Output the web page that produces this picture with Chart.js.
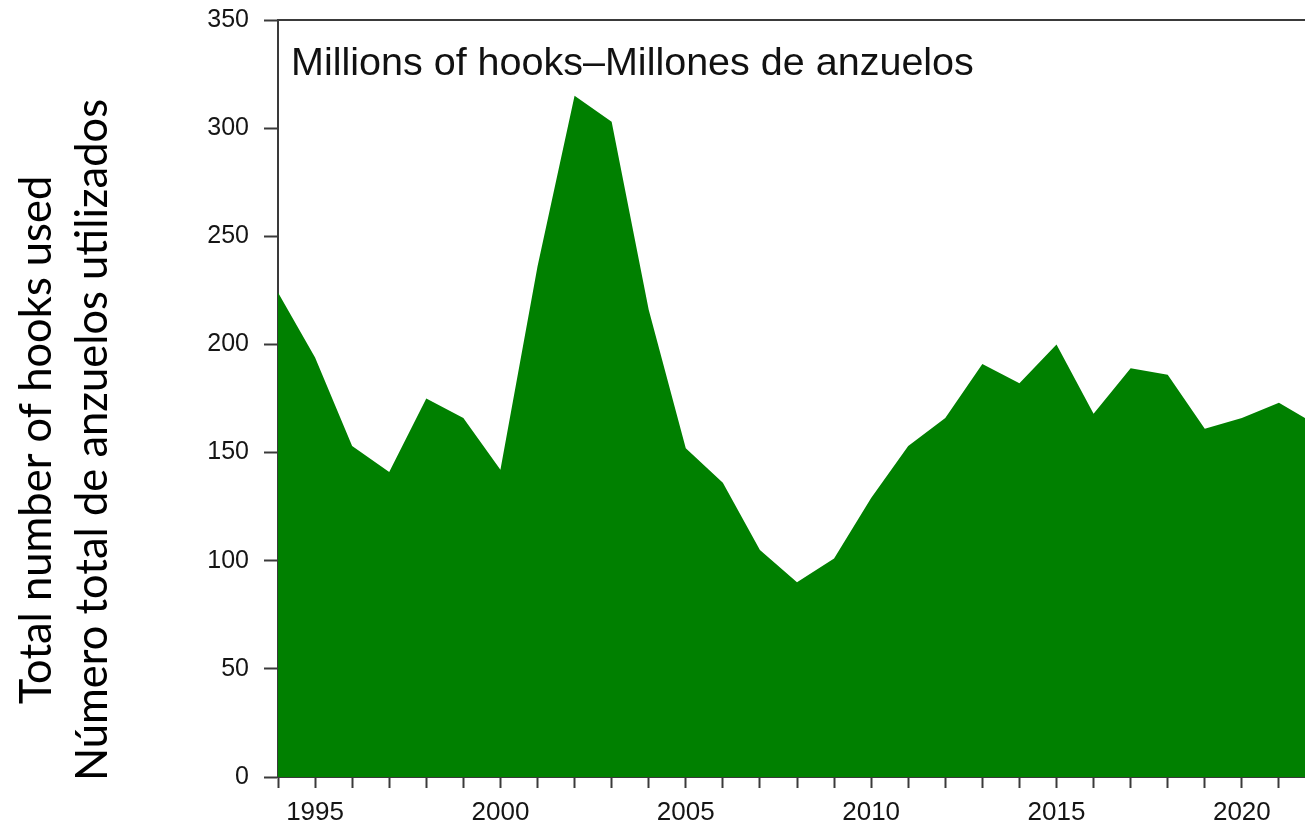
<!DOCTYPE html>
<html>
<head>
<meta charset="utf-8">
<script src="https://cdn.jsdelivr.net/npm/chart.js@4"></script>
<style>
    html, body { margin: 0; padding: 0; background: #fff; overflow: hidden; }
    #wrap { position: relative; width: 1330px; height: 825px; }
</style>
</head>
<body>
<div id="wrap"><canvas id="hooksChart"></canvas></div>
<script>
// Years on the x axis and total hooks (millions) per year
const years = [1994, 1995, 1996, 1997, 1998, 1999, 2000, 2001, 2002, 2003, 2004,
    2005, 2006, 2007, 2008, 2009, 2010, 2011, 2012, 2013, 2014, 2015,
    2016, 2017, 2018, 2019, 2020, 2021, 2022];
const hooks = [224, 194, 153, 141, 175, 166, 142, 236, 315, 303, 216,
    152, 136, 105, 90, 101, 129, 153, 166, 191, 182, 200,
    168, 189, 186, 161, 166, 173, 163];

const yTicks = [0, 50, 100, 150, 200, 250, 300, 350];
const labeledYears = [1995, 2000, 2005, 2010, 2015, 2020];

const panelTitle = 'Millions of hooks\u2013Millones de anzuelos';
const axisTitleLines = ['Total number of hooks used', 'Número total de anzuelos utilizados'];

const FILL_GREEN = '#008000';
const FRAME = '#3a3a3a';

// Frame top line, panel label inside the plot, and two-line y title
const decorations = {
    id: 'decorations',
    afterDraw(chart) {
        const { ctx, chartArea } = chart;
        ctx.save();
        ctx.strokeStyle = FRAME;
        ctx.lineWidth = 2;
        ctx.beginPath();
        ctx.moveTo(chartArea.left - 1, chartArea.top);
        ctx.lineTo(chartArea.right, chartArea.top);
        ctx.stroke();

        ctx.fillStyle = '#111';
        ctx.font = '39.5px "Liberation Sans", Arial, sans-serif';
        ctx.textBaseline = 'alphabetic';
        ctx.textAlign = 'left';
        ctx.fillText(panelTitle, chartArea.left + 13, chartArea.top + 55);

        ctx.translate(0, 440);
        ctx.rotate(-Math.PI / 2);
        ctx.textAlign = 'center';
        ctx.textBaseline = 'middle';
        ctx.fillStyle = '#000';
        ctx.font = '43.5px Lato, "Open Sans", sans-serif';
        ctx.fillText(axisTitleLines[0], 0, 37);
        ctx.fillText(axisTitleLines[1], 0, 93);
        ctx.restore();
    }
};

const ctx = document.getElementById('hooksChart');
new Chart(ctx, {
    type: 'line',
    data: {
        datasets: [{
            data: years.map((yr, i) => ({ x: yr, y: hooks[i] })),
            backgroundColor: FILL_GREEN,
            borderColor: FILL_GREEN,
            borderWidth: 0,
            pointRadius: 0,
            tension: 0,
            fill: 'origin'
        }]
    },
    options: {
        responsive: true,
        maintainAspectRatio: false,
        animation: false,
        layout: { padding: { left: 0, right: 14, top: 20, bottom: 0 } },
        plugins: {
            legend: { display: false },
            tooltip: { enabled: false }
        },
        scales: {
            x: {
                type: 'linear',
                min: years[0],
                max: years[years.length - 1],
                z: 1,
                afterFit: (scale) => {
                    scale.height = 48;
                    scale.paddingLeft = 0;
                    scale.paddingRight = 0;
                },
                afterBuildTicks: (scale) => {
                    scale.ticks = years.map(v => ({ value: v }));
                },
                ticks: {
                    autoSkip: false,
                    maxRotation: 0,
                    padding: 9,
                    color: '#151515',
                    font: { family: '"Liberation Sans", Arial, sans-serif', size: 26 },
                    callback: (v) => labeledYears.includes(v) ? String(v) : ''
                },
                grid: { drawOnChartArea: false, tickLength: 11, tickColor: FRAME, tickWidth: 2 },
                border: { display: true, color: FRAME, width: 2 }
            },
            y: {
                min: 0,
                max: 350,
                z: 1,
                afterFit: (scale) => {
                    scale.width = 278;
                    scale.paddingTop = 0;
                    scale.paddingBottom = 0;
                },
                afterBuildTicks: (scale) => {
                    scale.ticks = yTicks.map(v => ({ value: v }));
                },
                ticks: {
                    padding: 15,
                    color: '#151515',
                    font: { family: '"Liberation Sans", Arial, sans-serif', size: 25 }
                },
                grid: { drawOnChartArea: false, tickLength: 14, tickColor: FRAME, tickWidth: 2 },
                border: { display: true, color: FRAME, width: 2 }
            }
        }
    },
    plugins: [decorations]
});
</script>
</body>
</html>
